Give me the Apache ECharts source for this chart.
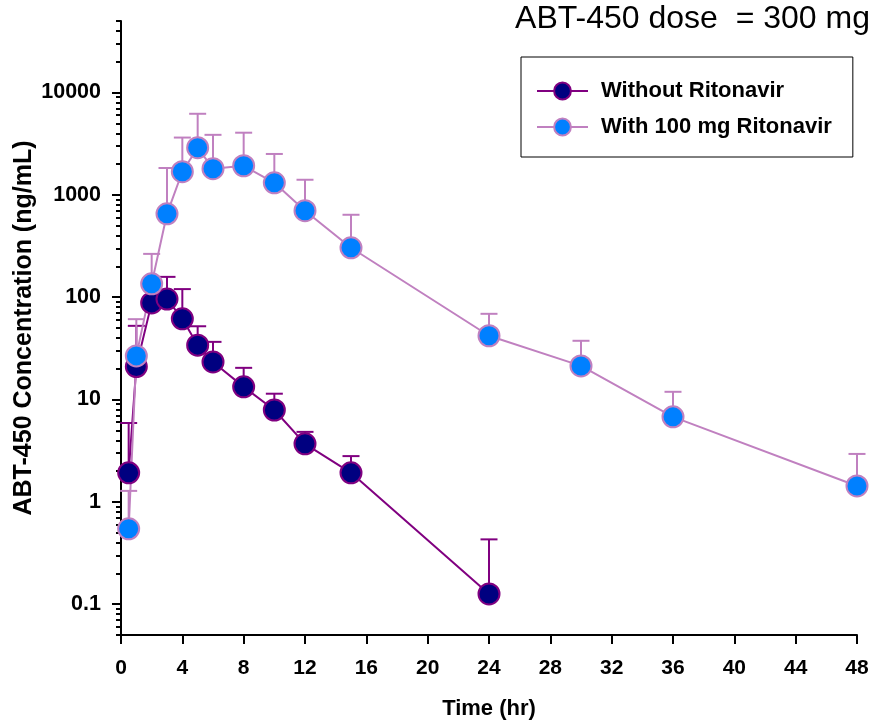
<!DOCTYPE html>
<html lang="en">
<head>
    <meta charset="UTF-8">
    <title>ABT-450 concentration</title>
    <script src="https://cdn.jsdelivr.net/npm/echarts@6/dist/echarts.min.js"></script>
    <style>
        html, body { margin: 0; padding: 0; background: #fff; }
        #chart { width: 875px; height: 728px; }
    </style>
</head>
<body>
<div id="chart"></div>
<script>
    // data
    var timesWithout = [0.5, 1, 2, 3, 4, 5, 6, 8, 10, 12, 15, 24];
    var meanWithout = [1.92, 21, 88, 96, 61.5, 34, 23.3, 13.3, 7.9, 3.69, 1.92, 0.126];
    var upperWithout = [5.9, 52.5, 125, 158, 120, 52, 36.6, 20.4, 11.4, 4.83, 2.8, 0.43];

    var timesWith = [0.5, 1, 2, 3, 4, 5, 6, 8, 10, 12, 15, 24, 30, 36, 48];
    var meanWith = [0.545, 26.7, 135, 653, 1683, 2890, 1800, 1925, 1313, 700, 304, 42, 21.3, 6.77, 1.43];
    var upperWith = [1.28, 61, 265, 1830, 3630, 6200, 3860, 4050, 2510, 1405, 639, 68.8, 37.5, 11.9, 2.94];

    var yMajor = [0.1, 1, 10, 100, 1000, 10000];
    var xTicks = [0, 4, 8, 12, 16, 20, 24, 28, 32, 36, 40, 44, 48];

    // minor log ticks 2..9 in each decade, clipped to the axis range
    var yMinor = [];
    [0.01, 0.1, 1, 10, 100, 1000, 10000].forEach(function (d) {
        for (var k = 2; k <= 9; k++) {
            var v = +(d * k).toPrecision(3);
            if (v >= 0.05 && v <= 50000) yMinor.push(v);
        }
    });

    var font = 'Liberation Sans, Arial, sans-serif';
    var darkLine = '#800080', darkFill = '#000080';
    var lightLine = '#c080c0', lightFill = '#0080ff';

    function pairs(xs, ys) {
        return xs.map(function (x, i) { return [x, ys[i]]; });
    }
    function triples(xs, ys, us) {
        return xs.map(function (x, i) { return [x, ys[i], us[i]]; });
    }

    function errorBar(color) {
        return function (params, api) {
            var p0 = api.coord([api.value(0), api.value(1)]);
            var p1 = api.coord([api.value(0), api.value(2)]);
            var st = { stroke: color, lineWidth: 2 };
            return {
                type: 'group',
                children: [
                    { type: 'line', shape: { x1: p0[0], y1: p0[1], x2: p1[0], y2: p1[1] }, style: st },
                    { type: 'line', shape: { x1: p1[0] - 8.5, y1: p1[1], x2: p1[0] + 8.5, y2: p1[1] }, style: st }
                ]
            };
        };
    }

    var chart = echarts.init(document.getElementById('chart'), null, { renderer: 'canvas' });

    var option = {
        animation: false,
        backgroundColor: '#fff',
        title: {
            text: 'ABT-450 dose  = 300 mg',
            right: 5,
            top: 3,
            padding: 0,
            textStyle: { fontFamily: font, fontSize: 32, fontWeight: 'normal', color: '#000' }
        },
        legend: {
            orient: 'vertical',
            left: 521,
            top: 57,
            padding: [23, 21, 19, 15],
            itemGap: 14,
            itemWidth: 51,
            itemHeight: 21,
            borderColor: '#000',
            borderWidth: 1,
            borderRadius: 0,
            data: ['Without Ritonavir', 'With 100 mg Ritonavir'],
            textStyle: { fontFamily: font, fontSize: 22, fontWeight: 'bold', color: '#000', padding: [0, 0, 0, 8] }
        },
        grid: { left: 121, right: 18, top: 21, bottom: 93, outerBoundsMode: 'none' },
        xAxis: {
            type: 'value',
            min: 0,
            max: 48,
            interval: 4,
            name: 'Time (hr)',
            nameLocation: 'middle',
            nameGap: 63,
            nameTextStyle: { fontFamily: font, fontSize: 22, fontWeight: 'bold', color: '#000' },
            axisLine: { lineStyle: { color: '#000', width: 2 } },
            axisTick: { length: 9, lineStyle: { color: '#000', width: 2 } },
            axisLabel: {
                margin: 23, fontFamily: font, fontSize: 21, fontWeight: 'bold', color: '#000',
                customValues: xTicks
            },
            splitLine: { show: false }
        },
        yAxis: [{
            type: 'log',
            logBase: 10,
            min: 0.05,
            max: 50000,
            name: 'ABT-450 Concentration (ng/mL)',
            nameLocation: 'middle',
            nameGap: 84,
            nameMoveOverlap: false,
            nameTextStyle: { fontFamily: font, fontSize: 25, fontWeight: 'bold', color: '#000' },
            axisLine: { show: true, lineStyle: { color: '#000', width: 2 } },
            axisTick: { show: true, length: 9, lineStyle: { color: '#000', width: 2 }, customValues: yMajor },
            axisLabel: {
                margin: 20, fontFamily: font, fontSize: 21.5, fontWeight: 'bold', color: '#000',
                customValues: yMajor,
                formatter: function (v) { return String(+v.toPrecision(3)); }
            },
            splitLine: { show: false }
        }, {
            type: 'log',
            logBase: 10,
            min: 0.05,
            max: 50000,
            position: 'left',
            axisLine: { show: false },
            axisTick: { show: true, length: 5, lineStyle: { color: '#000', width: 2 }, customValues: yMinor },
            axisLabel: { show: false },
            splitLine: { show: false }
        }],
        series: [{
            name: 'err-without',
            type: 'custom',
            renderItem: errorBar(darkLine),
            encode: { x: 0, y: [1, 2] },
            data: triples(timesWithout, meanWithout, upperWithout)
        }, {
            name: 'Without Ritonavir',
            type: 'line',
            data: pairs(timesWithout, meanWithout),
            symbol: 'circle',
            symbolSize: 21,
            lineStyle: { color: darkLine, width: 2 },
            itemStyle: { color: darkFill, borderColor: darkLine, borderWidth: 2 }
        }, {
            name: 'err-with',
            type: 'custom',
            renderItem: errorBar(lightLine),
            encode: { x: 0, y: [1, 2] },
            data: triples(timesWith, meanWith, upperWith)
        }, {
            name: 'With 100 mg Ritonavir',
            type: 'line',
            data: pairs(timesWith, meanWith),
            symbol: 'circle',
            symbolSize: 21,
            lineStyle: { color: lightLine, width: 2 },
            itemStyle: { color: lightFill, borderColor: lightLine, borderWidth: 2 }
        }]
    };

    chart.setOption(option);
</script>
</body>
</html>
